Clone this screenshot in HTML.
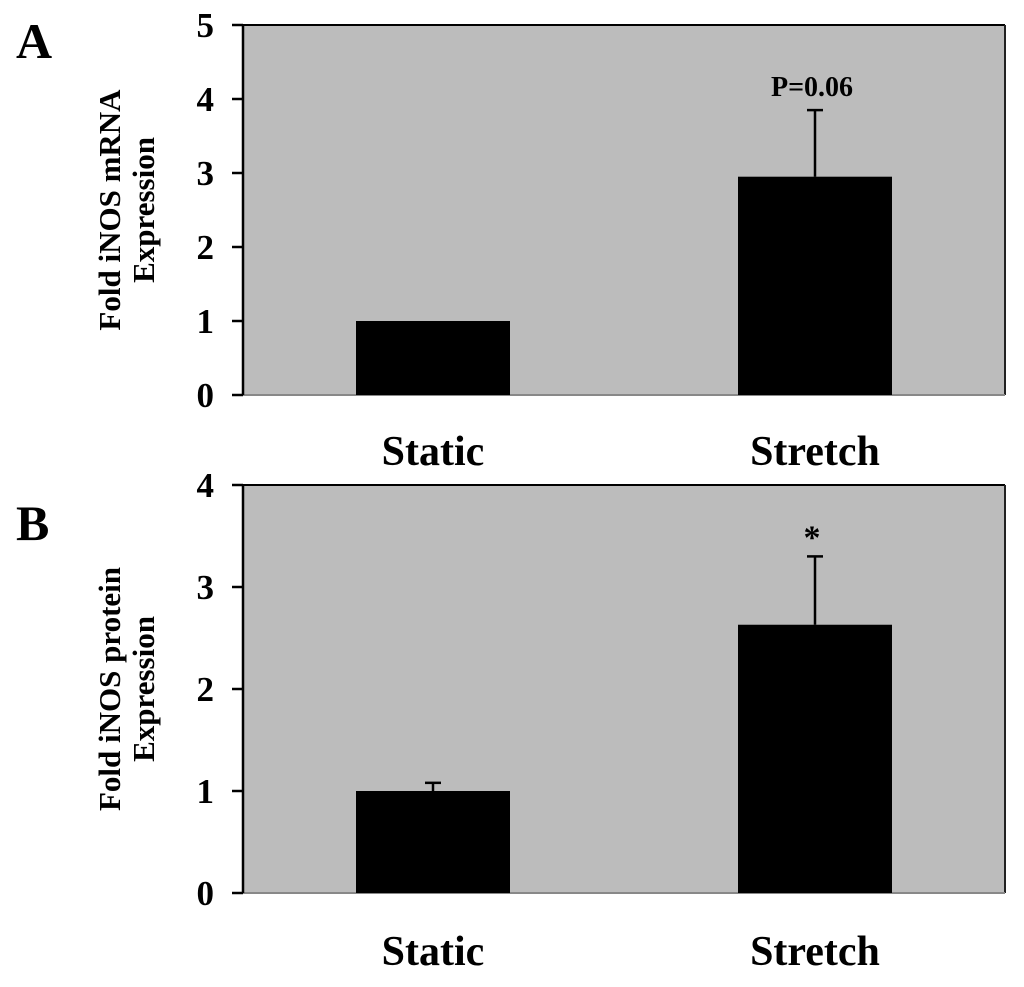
<!DOCTYPE html>
<html><head><meta charset="utf-8"><style>
body{margin:0;background:#fff}
svg text{font-family:"Liberation Serif",serif;font-weight:bold;fill:#000}
</style></head><body>
<svg id="c" width="1024" height="982" xmlns="http://www.w3.org/2000/svg"></svg>
<script>
const categories=["Static","Stretch"];
const mrnaValues=[1.0,2.95];
const mrnaErrors=[0,0.9];
const proteinValues=[1.0,2.63];
const proteinErrors=[0.08,0.67];
const mrnaTicks=[0,1,2,3,4,5];
const proteinTicks=[0,1,2,3,4];
const annotations=["P=0.06","*"];
const svg=document.getElementById('c');
const NS='http://www.w3.org/2000/svg';
function mk(t,a,p){const e=document.createElementNS(NS,t);for(const k in a)e.setAttribute(k,a[k]);(p||svg).appendChild(e);return e;}
function panel(cfg){
  const g=mk('g',{});
  
  
  const L=243,R=1005,T=cfg.top,B=cfg.bottom,max=cfg.ticks[cfg.ticks.length-1];
  const y=v=>B-(v/max)*(B-T);
  const bx=[356,738],bw=154;
  const bg=mk('rect',{x:L,y:T,width:R-L,height:B-T,fill:'#bcbcbc'},g);
  
  mk('line',{x1:L,y1:T,x2:R,y2:T,stroke:'#000','stroke-width':2},g);
  mk('line',{x1:R,y1:T,x2:R,y2:B,stroke:'#222','stroke-width':2},g);
  mk('line',{x1:L,y1:B,x2:R,y2:B,stroke:'#888','stroke-width':2},g);
  const ax=mk('line',{x1:L,y1:T-1,x2:L,y2:B,stroke:'#000','stroke-width':2.5},g);
  
  cfg.ticks.forEach(t=>{
    mk('line',{x1:L-11,y1:y(t),x2:L,y2:y(t),stroke:'#000','stroke-width':2.5},g);
    const tx=mk('text',{x:214,y:y(t)+12,'font-size':35,'text-anchor':'end'},g);tx.textContent=t;
    
  });
  cfg.values.forEach((v,i)=>{
    const r=mk('rect',{x:bx[i],y:y(v),width:bw,height:B-y(v),fill:'#000'},g);
    
    const e=cfg.errors[i];
    if(e>0){const cx=bx[i]+bw/2;
      const l=mk('line',{x1:cx,y1:y(v),x2:cx,y2:y(v+e),stroke:'#000','stroke-width':2.5},g);
      
      mk('line',{x1:cx-8,y1:y(v+e),x2:cx+8,y2:y(v+e),stroke:'#000','stroke-width':2.5},g);
    }
    const c=mk('text',{x:bx[i]+bw/2-(i?0:0),y:cfg.catY,'font-size':42,'text-anchor':'middle'},g);c.textContent=categories[i];
    
  });
  const a=mk('text',{x:bx[1]+bw/2-3,y:y(cfg.values[1]+cfg.errors[1])+cfg.annDy,'font-size':cfg.annSize,'text-anchor':'middle'},g);a.textContent=cfg.ann;
  
  const cy=(T+B)/2;
  const yt=mk('text',{transform:`translate(120,${cy}) rotate(-90)`,'font-size':31,'text-anchor':'middle'},g);
  
  const s1=mk('tspan',{x:0,dy:0},yt);s1.textContent=cfg.title1;
  const s2=mk('tspan',{x:0,dy:34},yt);s2.textContent='Expression';
  const pl=mk('text',{x:16,y:cfg.letterY,'font-size':50},g);pl.textContent=cfg.letter;
  
}
panel({name:'panel-a-mrna',top:25,bottom:395,ticks:mrnaTicks,values:mrnaValues,errors:mrnaErrors,catY:465,ann:annotations[0],annDy:-14,annSize:28,title1:'Fold iNOS mRNA',letter:'A',letterY:58});
panel({name:'panel-b-protein',top:485,bottom:893,ticks:proteinTicks,values:proteinValues,errors:proteinErrors,catY:965,ann:annotations[1],annDy:-8,annSize:34,title1:'Fold iNOS protein',letter:'B',letterY:540});
</script>
</body></html>
